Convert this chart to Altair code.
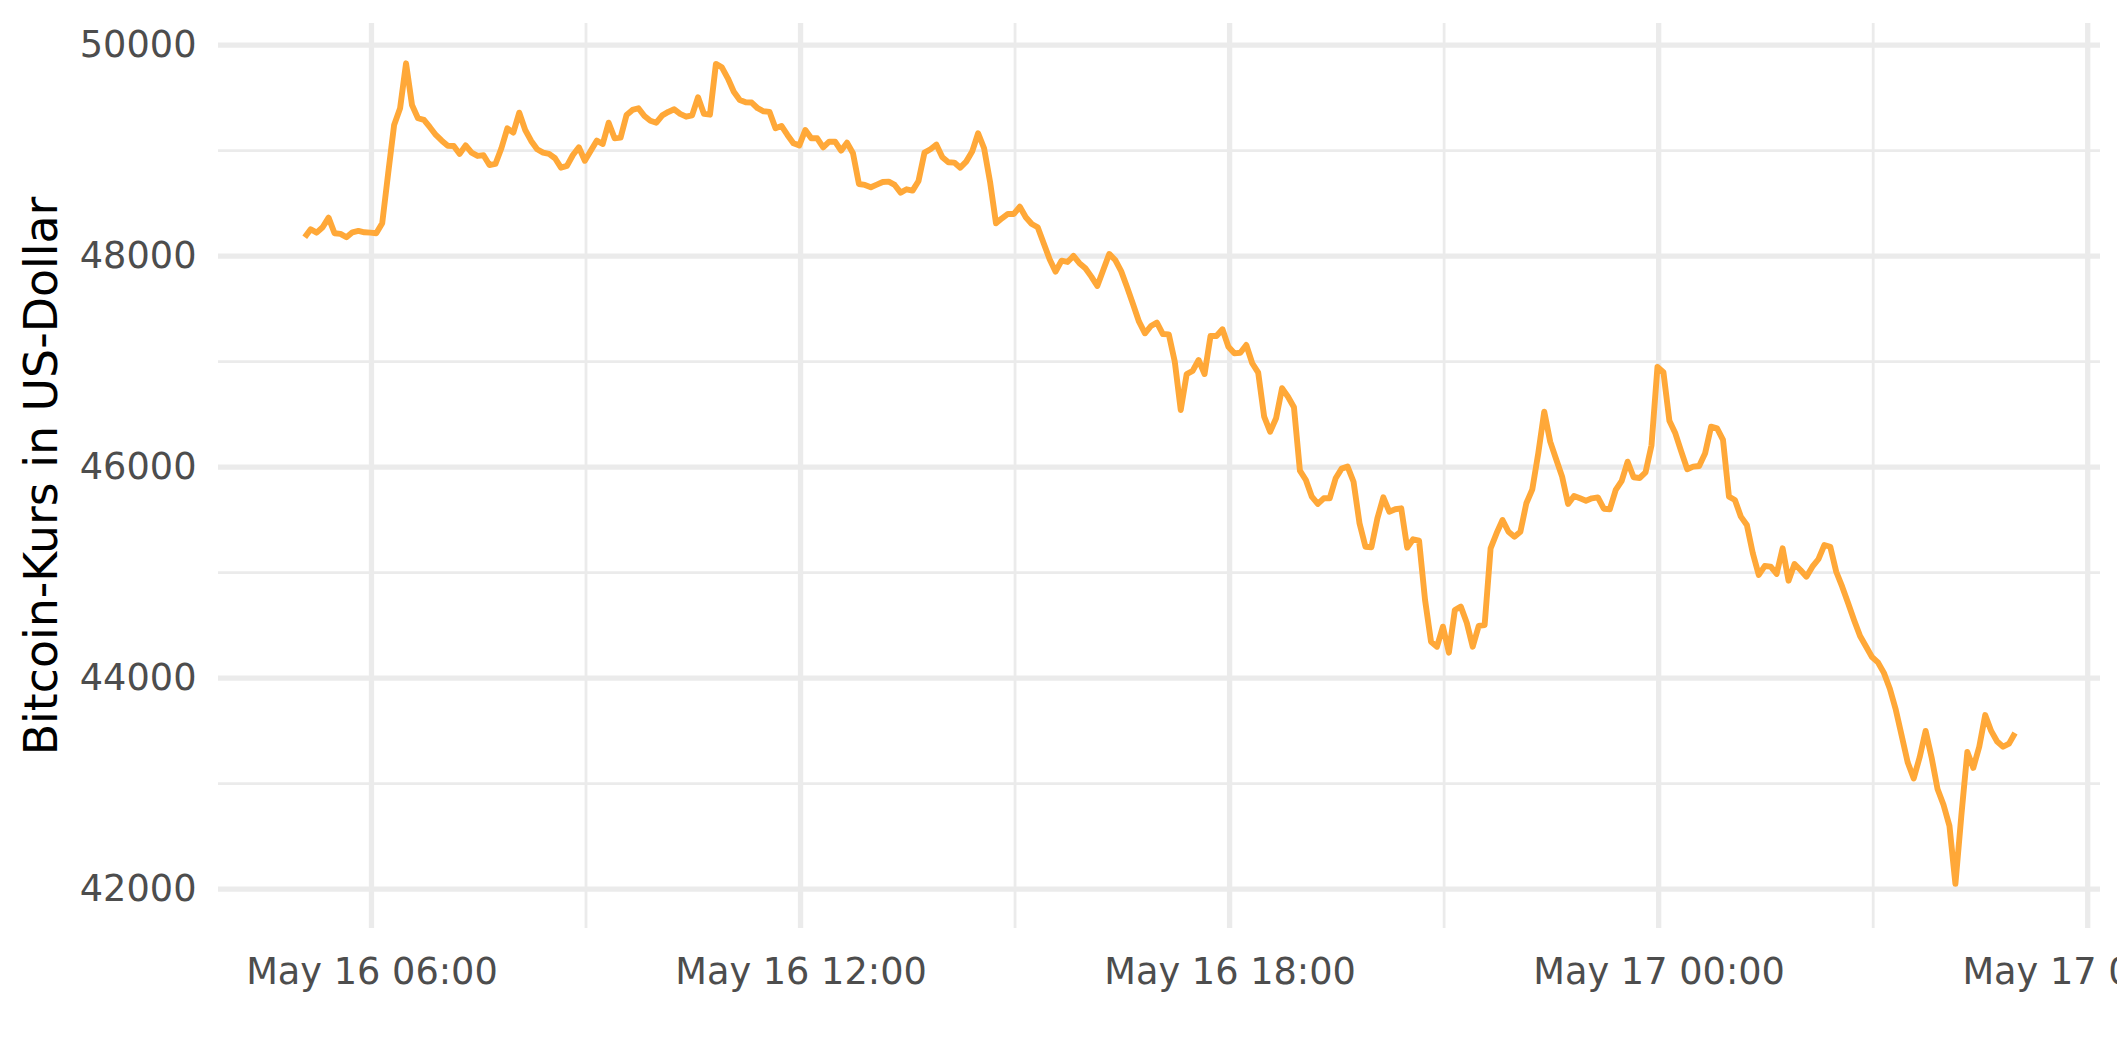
import altair as alt
import pandas as pd

# Bitcoin price in USD, 5-minute steps starting 2021-05-16 05:04 UTC
prices = [
    48179, 48255, 48223, 48274, 48365, 48217, 48211, 48179, 48226, 48239,
    48226, 48223, 48217, 48312, 48785, 49244, 49402, 49828, 49433, 49307,
    49291, 49222, 49149, 49095, 49047, 49044, 48969, 49050, 48981, 48950,
    48956, 48864, 48874, 49023, 49212, 49171, 49360, 49196, 49092, 49013,
    48981, 48969, 48928, 48839, 48855, 48959, 49032,
    48905, 49000, 49095, 49063, 49265, 49117, 49123, 49338, 49386, 49402,
    49329, 49284, 49265, 49335, 49367, 49392, 49348, 49322, 49335, 49506,
    49348, 49341, 49822, 49790, 49686, 49559, 49481, 49459, 49456, 49402,
    49373, 49367, 49212, 49234, 49149, 49070, 49050, 49196, 49117, 49117,
    49032,
    49085, 49085, 49000, 49076, 48975, 48684, 48675, 48653, 48678, 48703,
    48706, 48675, 48602, 48634, 48621, 48713, 48981, 49013, 49057, 48937,
    48890, 48887, 48839, 48896, 48991, 49165, 49023, 48706, 48312, 48359,
    48400, 48400, 48469, 48369, 48305, 48274, 48122, 47971, 47853, 47957,
    47945, 48002, 47933, 47885, 47806, 47717, 47869, 48021, 47964,
    47858, 47706, 47545, 47379, 47269, 47338, 47370, 47262, 47259, 47000,
    46542, 46883, 46912, 47016, 46883, 47243, 47243, 47307, 47142, 47079,
    47085, 47158, 46985, 46896, 46479, 46336, 46463, 46748, 46668, 46568,
    45967, 45878, 45720, 45651, 45705, 45705, 45895, 45986, 46005, 45862,
    45468, 45246, 45241, 45515, 45714, 45578, 45601, 45610, 45237, 45316,
    45303, 44741, 44346, 44298, 44488, 44242, 44646, 44678, 44526, 44298,
    44495, 44504, 45231, 45373, 45499, 45388, 45341, 45388, 45658, 45790,
    46132, 46526, 46242, 46075, 45910, 45651, 45727, 45705, 45682, 45705,
    45714, 45606, 45601, 45784, 45870, 46052, 45904, 45897, 45951, 46207,
    46950, 46900, 46441, 46321, 46147, 45980, 46005, 46011, 46132, 46384,
    46369, 46258, 45720, 45689, 45531, 45452, 45184, 44978, 45063, 45057,
    44988, 45231, 44924, 45082, 45025, 44962, 45057, 45127, 45262, 45246,
    45009, 44867, 44710,
    44550, 44400, 44300, 44200, 44150, 44050, 43900, 43700, 43450, 43200,
    43050, 43250, 43500, 43250, 42950, 42800, 42600, 42050, 42700, 43300,
    43150, 43350, 43650, 43500, 43400, 43350, 43380, 43480,
]

start_time = "2021-05-16 05:04"
times = pd.date_range(start_time, periods=len(prices), freq="5min")
time_labels = [t.strftime("%Y-%m-%dT%H:%M:%SZ") for t in times]

major_x = ["2021-05-16T06:00:00Z", "2021-05-16T12:00:00Z", "2021-05-16T18:00:00Z",
           "2021-05-17T00:00:00Z", "2021-05-17T06:00:00Z"]
minor_x = ["2021-05-16T09:00:00Z", "2021-05-16T15:00:00Z", "2021-05-16T21:00:00Z",
           "2021-05-17T03:00:00Z"]
major_y = [42000, 44000, 46000, 48000, 50000]
minor_y = [43000, 45000, 47000, 49000]
y_domain = [41632, 50210]


def dt(d, h, m=0, s=0):
    return alt.DateTime(year=2021, month=5, date=d, hours=h, minutes=m, seconds=s, utc=True)


x_domain = [dt(16, 3, 51, 13), dt(17, 6, 10, 19)]
x_tick_values = [dt(16, 6), dt(16, 12), dt(16, 18), dt(17, 0), dt(17, 6)]

W, H = 1882, 905
FONT = "DejaVu Sans"
GRID = "#EBEBEB"

xscale = alt.Scale(type="utc", domain=x_domain, nice=False)
yscale = alt.Scale(domain=y_domain, nice=False, zero=False)

xaxis = alt.Axis(values=x_tick_values, format="%b %d %H:%M", title="",
                 labelFont=FONT, labelFontSize=36.7, labelColor="#4D4D4D",
                 labelPadding=26, ticks=False, tickSize=0, domain=False, grid=False,
                 labelFlush=False, labelOverlap=False, labelBound=False,
                 labelLimit=1000)
yaxis = alt.Axis(values=major_y, format="d", title="Bitcoin-Kurs in US-Dollar",
                 labelFont=FONT, labelFontSize=36.7, labelColor="#4D4D4D",
                 labelPadding=22, ticks=False, tickSize=0, domain=False, grid=False,
                 labelLimit=1000,
                 titleFont=FONT, titleFontSize=45.8, titleFontWeight="normal",
                 titleColor="#000000", titleAngle=270, titleAlign="center",
                 titleBaseline="alphabetic", titleX=-162, titleY=H / 2,
                 titleLimit=2000)

line_df = pd.DataFrame({"time": time_labels, "price": prices})
vmaj = pd.DataFrame({"time": major_x})
vmin = pd.DataFrame({"time": minor_x})
hmaj = pd.DataFrame({"price": major_y})
hmin = pd.DataFrame({"price": minor_y})


def vrule(df, w):
    return alt.Chart(df).mark_rule(color=GRID, strokeWidth=w).encode(
        x=alt.X("time:T", scale=xscale, axis=xaxis),
        y=alt.value(0), y2=alt.value(H))


def hrule(df, w):
    return alt.Chart(df).mark_rule(color=GRID, strokeWidth=w).encode(
        y=alt.Y("price:Q", scale=yscale, axis=yaxis),
        x=alt.value(0), x2=alt.value(W))


line = alt.Chart(line_df).mark_line(color="#FFA838", strokeWidth=5.9,
                                    strokeJoin="round").encode(
    x=alt.X("time:T", scale=xscale, axis=xaxis),
    y=alt.Y("price:Q", scale=yscale, axis=yaxis))

chart = alt.layer(
    vrule(vmin, 2.8), hrule(hmin, 2.8), vrule(vmaj, 5.3), hrule(hmaj, 5.3), line
).properties(
    width=W, height=H,
    autosize=alt.AutoSizeParams(type="none"),
    padding={"left": 210, "top": 15, "right": 17, "bottom": 100},
    background="white",
).configure_view(stroke=None)

chart.save("out.html", embed_options={"renderer": "svg", "actions": False})
